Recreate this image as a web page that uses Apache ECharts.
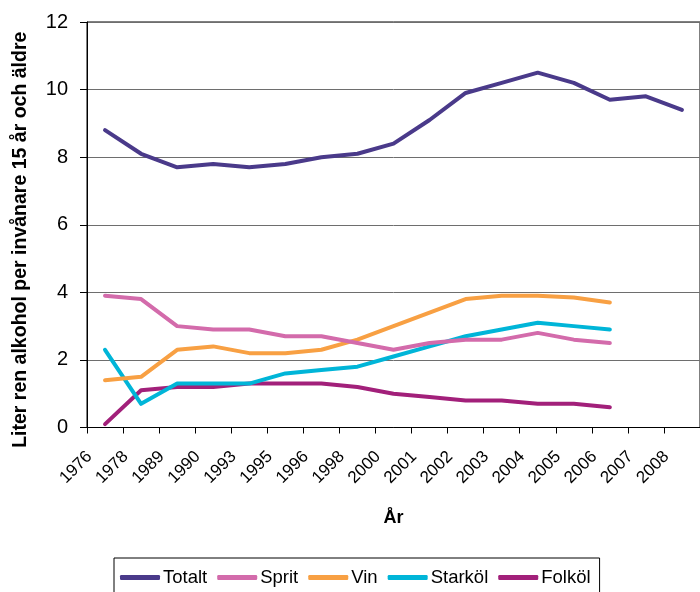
<!DOCTYPE html>
<html>
<head>
<meta charset="utf-8">
<script src="https://cdn.jsdelivr.net/npm/echarts@6/dist/echarts.min.js"></script>
<style>
  html, body { margin: 0; padding: 0; background: #fff; }
  #chart { width: 700px; height: 592px; }
</style>
</head>
<body>
<div id="chart"></div>
<script>
// Years on the category axis
const years = ['1976', '1978', '1989', '1990', '1993', '1995', '1996', '1998',
  '2000', '2001', '2002', '2003', '2004', '2005', '2006', '2007', '2008'];

// Litres of pure alcohol per inhabitant aged 15 and over
const totalt  = [8.8, 8.1, 7.7, 7.8, 7.7, 7.8, 8.0, 8.1, 8.4, 9.1, 9.9, 10.2, 10.5, 10.2, 9.7, 9.8, 9.4];
const sprit   = [3.9, 3.8, 3.0, 2.9, 2.9, 2.7, 2.7, 2.5, 2.3, 2.5, 2.6, 2.6, 2.8, 2.6, 2.5];
const vin     = [1.4, 1.5, 2.3, 2.4, 2.2, 2.2, 2.3, 2.6, 3.0, 3.4, 3.8, 3.9, 3.9, 3.85, 3.7];
const starkol = [2.3, 0.7, 1.3, 1.3, 1.3, 1.6, 1.7, 1.8, 2.1, 2.4, 2.7, 2.9, 3.1, 3.0, 2.9];
const folkol  = [0.1, 1.1, 1.2, 1.2, 1.3, 1.3, 1.3, 1.2, 1.0, 0.9, 0.8, 0.8, 0.7, 0.7, 0.6];

const seriesNames = ['Totalt', 'Sprit', 'Vin', 'Starköl', 'Folköl'];
const seriesData = [totalt, sprit, vin, starkol, folkol];
const colors = ['#4a3a8a', '#d36bab', '#f8a043', '#00b5d8', '#a2207a'];

const FONT = '"Liberation Sans", Arial, sans-serif';

const chart = echarts.init(document.getElementById('chart'), null, { renderer: 'canvas' });

chart.setOption({
  animation: false,
  backgroundColor: '#ffffff',
  color: colors,
  textStyle: { fontFamily: FONT },
  grid: {
    left: 87, top: 22, width: 617, height: 405.5,
    show: true, borderColor: '#000', borderWidth: 1, backgroundColor: 'transparent'
  },
  legend: {
    show: true,
    data: seriesNames,
    left: 114, top: 558,
    orient: 'horizontal',
    padding: [10, 9, 22, 6],
    itemGap: 10,
    itemWidth: 40,
    itemHeight: 5,
    icon: 'roundRect',
    borderColor: '#000', borderWidth: 1,
    textStyle: { fontFamily: FONT, fontSize: 18.5, color: '#000', padding: [0, 0, 0, -2] }
  },
  xAxis: {
    type: 'category',
    data: years,
    boundaryGap: true,
    name: 'År',
    nameLocation: 'middle',
    nameGap: 82,
    nameTextStyle: { fontFamily: FONT, fontSize: 18, fontWeight: 'bold', color: '#000' },
    axisLine: { show: true, lineStyle: { color: '#000', width: 1 } },
    axisTick: { show: true, length: 6, lineStyle: { color: '#000' } },
    axisLabel: {
      interval: 0, rotate: 45, margin: 11,
      fontFamily: FONT, fontSize: 17, color: '#000',
      padding: [0, 22, 0, 0]
    },
    splitLine: { show: false }
  },
  yAxis: {
    type: 'value',
    min: 0, max: 12, interval: 2,
    name: 'Liter ren alkohol per invånare 15 år och äldre',
    nameLocation: 'middle',
    nameRotate: 90,
    nameGap: 56,
    nameTextStyle: { fontFamily: FONT, fontSize: 19.5, fontWeight: 'bold', color: '#000', padding: [0, 30, 0, 0] },
    axisLine: { show: true, lineStyle: { color: '#000', width: 1 } },
    axisTick: { show: true, inside: false, length: 7, lineStyle: { color: '#000' } },
    axisLabel: { margin: 19, fontFamily: FONT, fontSize: 20, color: '#000' },
    splitLine: { show: true, lineStyle: { color: '#6e6e6e', width: 1 } }
  },
  series: seriesNames.map((name, i) => ({
    name: name,
    type: 'line',
    data: seriesData[i],
    symbol: 'none',
    smooth: false,
    lineStyle: { width: 4, color: colors[i], cap: 'round', join: 'round' },
    itemStyle: { color: colors[i] },
    z: 10 - i
  }))
});
</script>
</body>
</html>
